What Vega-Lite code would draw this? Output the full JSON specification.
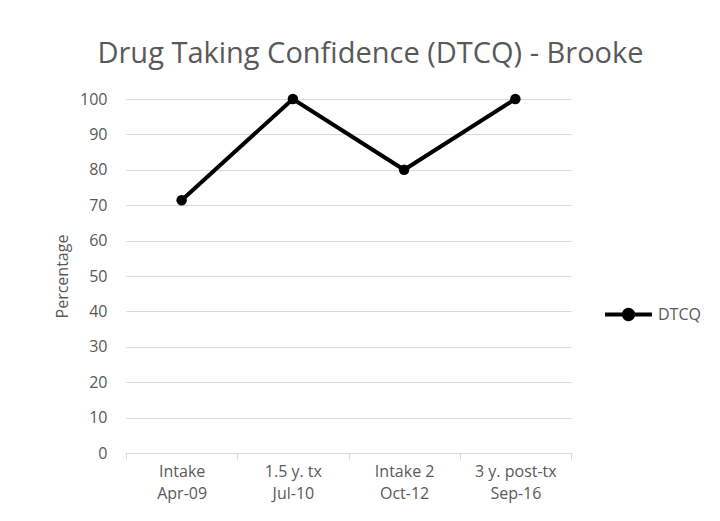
{
  "$schema": "https://vega.github.io/schema/vega-lite/v6.json",
  "width": 445,
  "height": 354,
  "autosize": "none",
  "padding": {"left": 126, "top": 99, "right": 149, "bottom": 68},
  "background": "white",
  "title": {
    "text": "Drug Taking Confidence (DTCQ) - Brooke",
    "anchor": "middle",
    "dx": 22,
    "offset": 22,
    "font": "Open Sans",
    "fontSize": 29,
    "fontWeight": "normal",
    "color": "#595959"
  },
  "data": {
    "values": [
      {"visit": "Intake\nApr-09", "series": "DTCQ", "pct": 71.4},
      {"visit": "1.5 y. tx\nJul-10", "series": "DTCQ", "pct": 100},
      {"visit": "Intake 2\nOct-12", "series": "DTCQ", "pct": 80},
      {"visit": "3 y. post-tx\nSep-16", "series": "DTCQ", "pct": 100}
    ]
  },
  "mark": {"type": "line", "strokeWidth": 4, "point": {"filled": true, "size": 110}},
  "encoding": {
    "x": {
      "field": "visit",
      "type": "nominal",
      "sort": null,
      "scale": {"paddingInner": 0, "paddingOuter": 0},
      "axis": {
        "title": null,
        "labelAngle": 0,
        "labelExpr": "split(datum.label, '\\n')",
        "labelFont": "Open Sans",
        "labelFontSize": 16,
        "labelColor": "#595959",
        "labelLineHeight": 22,
        "labelPadding": 4,
        "tickBand": "extent",
        "tickSize": 6,
        "tickColor": "#d9d9d9",
        "domainColor": "#d9d9d9",
        "grid": false
      }
    },
    "y": {
      "field": "pct",
      "type": "quantitative",
      "scale": {"domain": [0, 100]},
      "axis": {
        "title": "Percentage",
        "titleFont": "Open Sans",
        "titleFontSize": 16,
        "titleFontWeight": "normal",
        "titleColor": "#595959",
        "titlePadding": 9,
        "values": [0, 10, 20, 30, 40, 50, 60, 70, 80, 90, 100],
        "labelFont": "Open Sans",
        "labelFontSize": 16,
        "labelColor": "#595959",
        "labelPadding": 19,
        "ticks": false,
        "domain": false,
        "gridColor": "#d9d9d9",
        "gridWidth": 1
      }
    },
    "color": {
      "field": "series",
      "type": "nominal",
      "scale": {"range": ["#000000"]},
      "legend": {
        "title": null,
        "orient": "none",
        "legendX": 477,
        "legendY": 190,
        "symbolType": "M-1,0H1M-0.2,0A0.2,0.2 0 1,0 0.2,0A0.2,0.2 0 1,0 -0.2,0",
        "symbolSize": 2200,
        "symbolStrokeWidth": 4,
        "symbolFillColor": "#000000",
        "symbolStrokeColor": "#000000",
        "labelFont": "Open Sans",
        "labelFontSize": 16,
        "labelColor": "#595959",
        "labelOffset": 4
      }
    }
  },
  "config": {"view": {"stroke": null}}
}
